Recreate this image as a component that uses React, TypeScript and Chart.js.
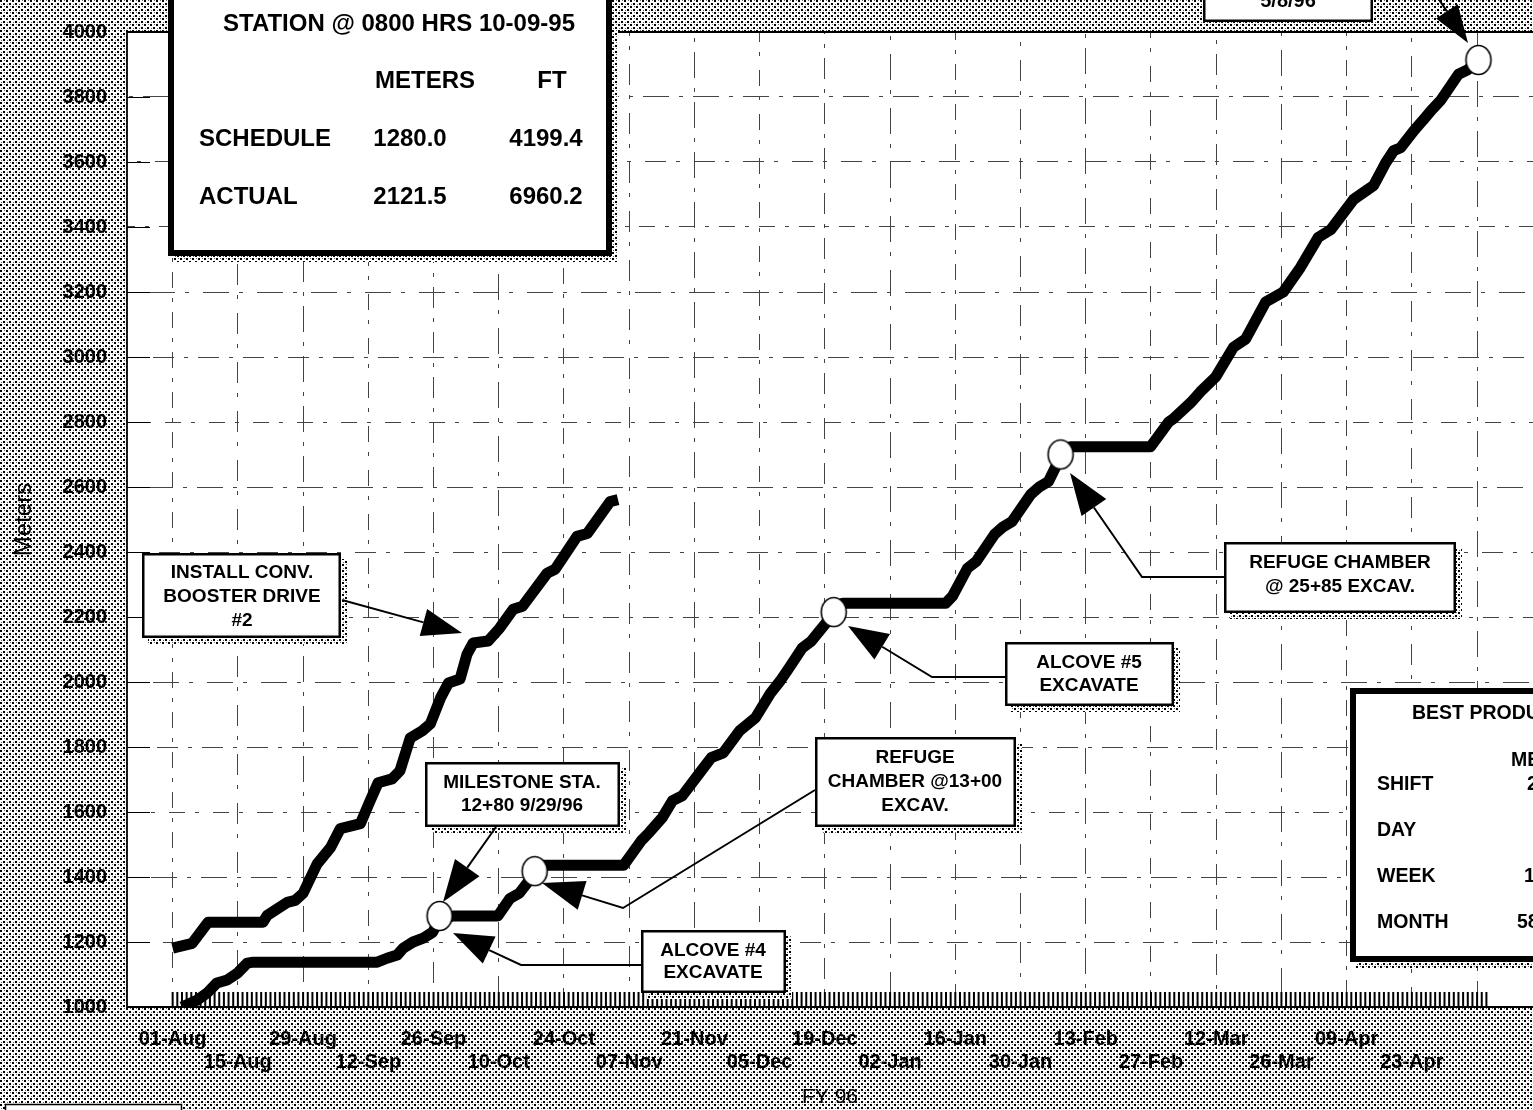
import React, { useEffect, useRef } from 'react';
import { Chart, registerables } from 'chart.js';

Chart.register(...registerables);

const FONT = '"Liberation Sans", Arial, Helvetica, sans-serif';

// X axis: days counted from 01-Aug
const tickLabels = ['01-Aug', '15-Aug', '29-Aug', '12-Sep', '26-Sep', '10-Oct', '24-Oct', '07-Nov', '21-Nov', '05-Dec',
  '19-Dec', '02-Jan', '16-Jan', '30-Jan', '13-Feb', '27-Feb', '12-Mar', '26-Mar', '09-Apr', '23-Apr'];
const tickDays = [0, 14, 28, 42, 56, 70, 84, 98, 112, 126, 140, 154, 168, 182, 196, 210, 224, 238, 252, 266, 280];

// ACTUAL (upper line)
const actualDays = [0, 4.2, 7.6, 19.4, 20.3, 24.6, 26.3, 28.0, 31.0, 33.9, 36.0, 38.6, 40.3, 42.4, 44.1, 47.1, 48.8,
  51.0, 53.6, 55.3, 57.5, 59.2, 61.7, 63.2, 64.5, 67.7, 70.2, 73.1, 75.1, 80.4, 82.1, 86.8, 89.0, 93.9, 95.6];
const actualMeters = [1181, 1196, 1261, 1261, 1282, 1322, 1328, 1350, 1440, 1491, 1549, 1558, 1564, 1635, 1690, 1702, 1727,
  1828, 1850, 1871, 1951, 1997, 2009, 2086, 2120, 2126, 2166, 2224, 2233, 2335, 2347, 2448, 2457, 2555, 2561];

// SCHEDULE (lower line)
const scheduleDays = [2.0, 5.2, 7.4, 9.5, 11.7, 13.9, 16.0, 17.3, 43.9, 46.0, 48.2, 49.5, 51.6, 53.8, 55.8, 57.3, 60.3,
  69.8, 72.4, 74.4, 77.7, 79.6, 96.8, 100.6, 102.3, 105.1, 107.3, 109.4, 113.0, 115.6, 118.2, 121.7, 125.1, 128.3,
  130.4, 132.3, 135.1, 137.1, 140.2, 141.9, 143.8, 165.9, 167.4, 170.6, 172.5, 176.4, 178.3, 180.2, 184.2, 186.1,
  188.0, 190.6, 192.7, 209.9, 213.8, 214.8, 218.7, 220.6, 223.9, 227.7, 230.3, 234.6, 238.4, 242.1, 245.9, 248.6,
  253.5, 256.5, 257.8, 260.4, 262.1, 263.6, 266.4, 268.3, 270.1, 272.2, 276.0, 277.9, 280.3];
const scheduleMeters = [1000, 1021, 1043, 1074, 1083, 1104, 1135, 1138, 1138, 1150, 1160, 1181, 1200, 1212, 1230, 1270, 1280,
  1280, 1334, 1350, 1411, 1436, 1436, 1512, 1537, 1583, 1635, 1650, 1718, 1767, 1782, 1850, 1890, 1965,
  2003, 2043, 2104, 2126, 2181, 2212, 2242, 2242, 2264, 2350, 2371, 2454, 2478, 2494, 2577, 2601,
  2617, 2693, 2724, 2724, 2800, 2810, 2862, 2893, 2939, 3030, 3055, 3169, 3200, 3276, 3368, 3392,
  3485, 3515, 3528, 3598, 3635, 3644, 3696, 3727, 3758, 3790, 3870, 3883, 3911];

// milestone circles
const milestoneDays = [57.3, 77.7, 141.9, 190.6, 280.3];
const milestoneMeters = [1280, 1418, 2215, 2700, 3914];

function makeStipple(ctx: CanvasRenderingContext2D) {
  const c = document.createElement('canvas');
  c.width = 6; c.height = 6;
  const g = c.getContext('2d')!;
  g.fillStyle = '#ffffff'; g.fillRect(0, 0, 6, 6);
  g.fillStyle = '#000000';
  g.fillRect(0, 0, 2, 2);
  g.fillRect(3, 3, 2, 2);
  g.fillStyle = 'rgba(0,0,0,0.6)';
  g.fillRect(4, 0, 1, 1);
  g.fillRect(1, 4, 1, 1);
  return ctx.createPattern(c, 'repeat');
}

function makeEllipse() {
  const c = document.createElement('canvas');
  c.width = 30; c.height = 34;
  const g = c.getContext('2d')!;
  g.beginPath();
  g.ellipse(15, 17, 12.5, 14.5, 0, 0, Math.PI * 2);
  g.fillStyle = '#ffffff'; g.fill();
  g.lineWidth = 1.6; g.strokeStyle = '#000'; g.stroke();
  return c;
}

function drawBox(ctx: CanvasRenderingContext2D, pat: any, x1: number, y1: number, x2: number, y2: number, bw: number) {
  ctx.fillStyle = pat;
  ctx.fillRect(x1 + 6, y1 + 6, x2 - x1, y2 - y1);
  ctx.fillStyle = '#ffffff';
  ctx.fillRect(x1, y1, x2 - x1, y2 - y1);
  ctx.lineWidth = bw;
  ctx.strokeStyle = '#000';
  ctx.setLineDash([]);
  ctx.strokeRect(x1 + bw / 2, y1 + bw / 2, x2 - x1 - bw, y2 - y1 - bw);
}

function text(ctx: CanvasRenderingContext2D, s: string, x: number, y: number, size: number, align: CanvasTextAlign = 'center') {
  ctx.font = `bold ${size}px ${FONT}`;
  ctx.fillStyle = '#000';
  ctx.textAlign = align;
  ctx.textBaseline = 'middle';
  ctx.fillText(s, x, y);
}

function arrow(ctx: CanvasRenderingContext2D, pts: number[][], L: number, W: number) {
  const n = pts.length;
  const [tx, ty] = pts[n - 1];
  const [px, py] = pts[n - 2];
  const dx = tx - px, dy = ty - py;
  const len = Math.hypot(dx, dy);
  const ux = dx / len, uy = dy / len;
  const bx = tx - ux * L, by = ty - uy * L;
  ctx.setLineDash([]);
  ctx.strokeStyle = '#000';
  ctx.lineWidth = 2;
  ctx.beginPath();
  ctx.moveTo(pts[0][0], pts[0][1]);
  for (let i = 1; i < n - 1; i++) ctx.lineTo(pts[i][0], pts[i][1]);
  ctx.lineTo(bx, by);
  ctx.stroke();
  ctx.fillStyle = '#000';
  ctx.beginPath();
  ctx.moveTo(tx, ty);
  ctx.lineTo(bx - uy * W, by + ux * W);
  ctx.lineTo(bx + uy * W, by - ux * W);
  ctx.closePath();
  ctx.fill();
}

const gridDash = (c: any) => [16 + (c.index % 3) * 5, 10, 4, 10 + (c.index % 2) * 4];
const gridDashOffset = (c: any) => (c.index * 13) % 37;

export default function App() {
  const ref = useRef<HTMLCanvasElement>(null);

  useEffect(() => {
    document.body.style.margin = '0';
    const canvas = ref.current!;
    const ctx0 = canvas.getContext('2d')!;
    const pat = makeStipple(ctx0);
    const ellipse = makeEllipse();

    const backgroundPlugin = {
      id: 'bg',
      beforeDraw(chart: any) {
        const { ctx, chartArea: a } = chart;
        ctx.save();
        ctx.fillStyle = pat;
        ctx.fillRect(0, 0, chart.width, chart.height);
        ctx.fillStyle = '#ffffff';
        ctx.fillRect(a.left, a.top, a.right - a.left, a.bottom - a.top);
        ctx.restore();
      },
      beforeDatasetsDraw(chart: any) {
        const { ctx, chartArea: a, scales } = chart;
        ctx.save();
        ctx.setLineDash([]);
        ctx.strokeStyle = '#000';
        // daily minor ticks pointing inward from the x axis
        ctx.lineWidth = 2;
        ctx.beginPath();
        for (let d = 0; d <= 282; d++) {
          const px = scales.x.getPixelForValue(d);
          ctx.moveTo(px, a.bottom);
          ctx.lineTo(px, a.bottom - 15);
        }
        ctx.stroke();
        // inward y ticks
        ctx.lineWidth = 1.2;
        ctx.beginPath();
        scales.y.ticks.forEach((t: any) => {
          const py = Math.round(scales.y.getPixelForValue(t.value)) + 0.5;
          ctx.moveTo(a.left, py);
          ctx.lineTo(a.left + 23, py);
        });
        ctx.stroke();
        // plot frame
        ctx.lineWidth = 1.8;
        ctx.beginPath();
        ctx.moveTo(a.right + 2, a.top);
        ctx.lineTo(a.left, a.top);
        ctx.lineTo(a.left, a.bottom);
        ctx.lineTo(a.right + 2, a.bottom);
        ctx.stroke();
        ctx.restore();
      },
      afterDraw(chart: any) {
        const ctx = chart.ctx as CanvasRenderingContext2D;
        ctx.save();
        // STATION box
        drawBox(ctx, pat, 168, -12, 612, 256, 6);
        text(ctx, 'STATION @ 0800 HRS 10-09-95', 399, 24, 24);
        text(ctx, 'METERS', 425, 81, 24);
        text(ctx, 'FT', 552, 81, 24);
        text(ctx, 'SCHEDULE', 199, 139, 24, 'left');
        text(ctx, '1280.0', 410, 139, 24);
        text(ctx, '4199.4', 546, 139, 24);
        text(ctx, 'ACTUAL', 199, 197, 24, 'left');
        text(ctx, '2121.5', 410, 197, 24);
        text(ctx, '6960.2', 546, 197, 24);

        // 5/8/96 box and arrow
        drawBox(ctx, pat, 1203, -24, 1373, 22, 2.5);
        text(ctx, '5/8/96', 1288, 1, 20);
        arrow(ctx, [[1430, -14], [1468, 43]], 38, 13);

        // INSTALL CONV.
        drawBox(ctx, pat, 142, 553, 341, 638, 2.5);
        text(ctx, 'INSTALL CONV.', 242, 573, 19);
        text(ctx, 'BOOSTER DRIVE', 242, 597, 19);
        text(ctx, '#2', 242, 621, 19);
        arrow(ctx, [[342, 600], [462, 633]], 40, 14);

        // MILESTONE
        drawBox(ctx, pat, 425, 762, 620, 827, 2.5);
        text(ctx, 'MILESTONE STA.', 522, 783, 19);
        text(ctx, '12+80 9/29/96', 522, 806, 19);
        arrow(ctx, [[496, 827], [443, 902]], 42, 15);

        // REFUGE CHAMBER @13+00
        drawBox(ctx, pat, 815, 737, 1016, 827, 2.5);
        text(ctx, 'REFUGE', 915, 758, 19);
        text(ctx, 'CHAMBER @13+00', 915, 782, 19);
        text(ctx, 'EXCAV.', 915, 806, 19);
        arrow(ctx, [[815, 790], [623, 908], [542, 883]], 42, 15);

        // ALCOVE #4
        drawBox(ctx, pat, 641, 930, 786, 993, 2.5);
        text(ctx, 'ALCOVE #4', 713, 951, 19);
        text(ctx, 'EXCAVATE', 713, 973, 19);
        arrow(ctx, [[641, 965], [521, 965], [453, 933]], 40, 15);

        // ALCOVE #5
        drawBox(ctx, pat, 1005, 642, 1174, 706, 2.5);
        text(ctx, 'ALCOVE #5', 1089, 663, 19);
        text(ctx, 'EXCAVATE', 1089, 686, 19);
        arrow(ctx, [[1005, 677], [932, 677], [848, 626]], 40, 15);

        // REFUGE CHAMBER @ 25+85
        drawBox(ctx, pat, 1224, 542, 1456, 613, 2.5);
        text(ctx, 'REFUGE CHAMBER', 1340, 563, 19);
        text(ctx, '@ 25+85 EXCAV.', 1340, 587, 19);
        arrow(ctx, [[1224, 577], [1142, 577], [1070, 473]], 42, 15);

        // BEST PRODUCTION box (cut by the right edge)
        drawBox(ctx, pat, 1350, 688, 1580, 962, 6);
        text(ctx, 'BEST PRODUCTION', 1412, 714, 19.5, 'left');
        text(ctx, 'METERS', 1511, 761, 19.5, 'left');
        text(ctx, 'SHIFT', 1377, 785, 19.5, 'left');
        text(ctx, 'DAY', 1377, 831, 19.5, 'left');
        text(ctx, 'WEEK', 1377, 877, 19.5, 'left');
        text(ctx, 'MONTH', 1377, 923, 19.5, 'left');
        text(ctx, '2', 1527, 785, 19.5, 'left');
        text(ctx, '1', 1524, 877, 19.5, 'left');
        text(ctx, '58', 1517, 923, 19.5, 'left');

        // small box bottom-left
        ctx.fillStyle = '#fff';
        ctx.fillRect(5, 1104, 177, 20);
        ctx.strokeStyle = '#000';
        ctx.lineWidth = 1.5;
        ctx.strokeRect(5.5, 1104.5, 176, 20);
        ctx.restore();
      },
    };

    const chart = new Chart(canvas, {
      type: 'line',
      data: {
        datasets: [
          {
            label: 'Milestones',
            data: milestoneDays.map((d, i) => ({ x: d, y: milestoneMeters[i] })),
            showLine: false,
            pointStyle: ellipse as any,
            pointRadius: 14,
            order: 0,
            clip: false as any,
          },
          {
            label: 'Schedule',
            data: scheduleDays.map((d, i) => ({ x: d, y: scheduleMeters[i] })),
            borderColor: '#000',
            borderWidth: 11,
            pointRadius: 0,
            tension: 0,
            borderJoinStyle: 'round',
            borderCapStyle: 'butt',
            order: 1,
          },
          {
            label: 'Actual',
            data: actualDays.map((d, i) => ({ x: d, y: actualMeters[i] })),
            borderColor: '#000',
            borderWidth: 11,
            pointRadius: 0,
            tension: 0,
            borderJoinStyle: 'round',
            borderCapStyle: 'butt',
            order: 1,
          },
        ],
      },
      options: {
        responsive: false,
        animation: false,
        devicePixelRatio: 1,
        layout: { padding: { top: 29, left: 0, right: 0, bottom: 0 }, autoPadding: false },
        plugins: { legend: { display: false }, tooltip: { enabled: false } },
        events: [],
        scales: {
          x: {
            type: 'linear',
            min: -9.8,
            max: 292,
            bounds: 'data',
            afterBuildTicks: (s: any) => { s.ticks = tickDays.map((v) => ({ value: v })); },
            afterFit: (s: any) => { s.height = 103; },
            grid: { color: '#444', lineWidth: 1, drawTicks: false },
            border: { display: false, dash: gridDash, dashOffset: gridDashOffset },
            ticks: {
              autoSkip: false,
              maxRotation: 0,
              minRotation: 0,
              padding: 21,
              color: '#000',
              font: { family: FONT, size: 20, weight: 'bold', lineHeight: 1.15 },
              callback: (value: any) => {
                const i = tickDays.indexOf(Number(value));
                if (i < 0 || i >= tickLabels.length) return '';
                return i % 2 === 0 ? [tickLabels[i], ''] : ['', tickLabels[i]];
              },
            },
            title: { display: true, text: 'FY 96', color: '#000', font: { family: FONT, size: 21 }, padding: { top: 0, bottom: 0 } },
          },
          y: {
            type: 'linear',
            min: 1000,
            max: 4000,
            afterFit: (s: any) => { s.width = 127; },
            grid: { color: '#444', lineWidth: 1, drawTicks: false },
            border: { display: false, dash: gridDash, dashOffset: gridDashOffset },
            ticks: {
              stepSize: 200,
              padding: 20,
              color: '#000',
              font: { family: FONT, size: 20, weight: 'bold' },
              callback: (v: any) => String(v),
            },
            title: { display: true, text: 'Meters', color: '#000', font: { family: FONT, size: 24 }, padding: { top: 10, bottom: 0 } },
          },
        },
      },
      plugins: [backgroundPlugin],
    } as any);

    return () => chart.destroy();
  }, []);

  return (
    <div style={{ width: 1533, height: 1110, position: 'relative', overflow: 'hidden' }}>
      <canvas ref={ref} width={1533} height={1110} style={{ display: 'block' }} />
    </div>
  );
}
